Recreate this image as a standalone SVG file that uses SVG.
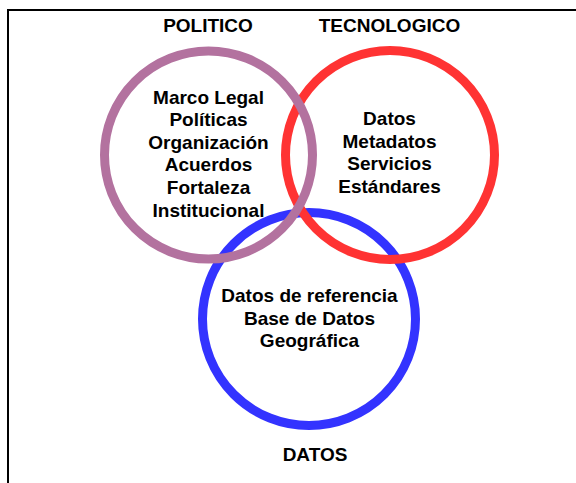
<svg xmlns="http://www.w3.org/2000/svg" width="576" height="483" viewBox="0 0 576 483">
<style>
.t{font-family:"Liberation Sans",Arial,sans-serif;font-weight:bold;font-size:19px;fill:#000;text-anchor:middle}
.c{fill:none;stroke-width:9}
</style>
<rect width="576" height="483" fill="#fff"/>
<path d="M8,483 V10 H576" fill="none" stroke="#000" stroke-width="2"/>
<g id="datos">
<circle class="c" cx="309" cy="319" r="106.5" stroke="#3333FF"/>
<text class="t" x="309.5" y="302">Datos de referencia</text>
<text class="t" x="309.5" y="324.5">Base de Datos</text>
<text class="t" x="309.5" y="347">Geográfica</text>
<text class="t" x="315" y="461">DATOS</text>
</g>
<g id="tecnologico">
<circle class="c" cx="390" cy="155" r="104.5" stroke="#FF3333"/>
<text class="t" x="389.5" y="125">Datos</text>
<text class="t" x="389.5" y="147.6">Metadatos</text>
<text class="t" x="389.5" y="170.2">Servicios</text>
<text class="t" x="389.5" y="192.8">Estándares</text>
<text class="t" x="389.5" y="32">TECNOLOGICO</text>
</g>
<g id="politico">
<circle class="c" cx="208.5" cy="155" r="104" stroke="#B3729F"/>
<text class="t" x="208.5" y="103.5">Marco Legal</text>
<text class="t" x="208.5" y="126.1">Políticas</text>
<text class="t" x="208.5" y="148.7">Organización</text>
<text class="t" x="208.5" y="171.3">Acuerdos</text>
<text class="t" x="208.5" y="193.9">Fortaleza</text>
<text class="t" x="208.5" y="216.5">Institucional</text>
<text class="t" x="208" y="32">POLITICO</text>
</g>
</svg>
